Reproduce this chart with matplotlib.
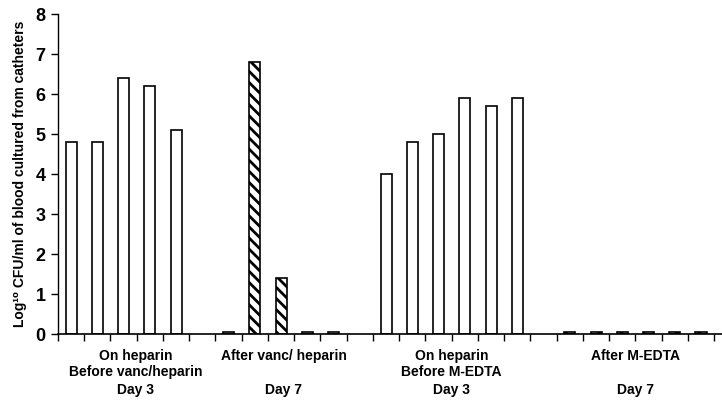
import matplotlib
matplotlib.use("Agg")
import matplotlib.pyplot as plt
import numpy as np

plt.rcParams['font.family'] = ['Liberation Sans', 'DejaVu Sans']
plt.rcParams['hatch.linewidth'] = 2.0

# log10 CFU/ml per catheter slot (None = empty slot between groups)
values = [4.8, 4.8, 6.4, 6.2, 5.1, None,
          0.05, 6.8, 1.4, 0.05, 0.05, None,
          4.0, 4.8, 5.0, 5.9, 5.7, 5.9, None,
          0.05, 0.05, 0.05, 0.05, 0.05, 0.05]
hatched = [False] * 5 + [False] + \
          [False, True, True, False, False] + [False] + \
          [False] * 6 + [False] + \
          [True] * 6

group_lines1 = ['On heparin', 'After vanc/ heparin', 'On heparin', 'After M-EDTA']
group_lines2 = ['Before vanc/heparin', '', 'Before M-EDTA', '']
group_lines3 = ['Day 3', 'Day 7', 'Day 3', 'Day 7']
group_centers = [2.45, 8.1, 14.5, 21.5]

fig = plt.figure(figsize=(7.22, 4.05), dpi=100)
ax = fig.add_axes([0.0803, 0.1753, 0.9197, 0.790])

for i, v in enumerate(values):
    if v is None:
        continue
    ax.bar(i, v, width=0.42, color='white', edgecolor='black', linewidth=1.2,
           hatch='\\\\\\' if hatched[i] else None)

ax.set_xlim(-0.5, 24.8)
ax.set_ylim(0, 8)
ax.set_yticks(range(0, 9))
ax.set_yticklabels([str(t) for t in range(0, 9)], fontsize=13, fontweight='bold')
ax.set_xticks(np.arange(-0.5, 25, 1.0))
ax.set_xticklabels([])
ax.tick_params(axis='x', direction='out', length=5, width=1)
ax.tick_params(axis='y', direction='out', length=5, width=1, pad=4)

ax.spines['top'].set_visible(False)
ax.spines['right'].set_visible(False)
ax.spines['left'].set_linewidth(1.0)
ax.spines['bottom'].set_linewidth(1.2)

ax.set_ylabel('Log\u00b9\u2070 CFU/ml of blood cultured from catheters',
              fontsize=10, fontweight='bold', labelpad=6)

for c, l1, l2, l3 in zip(group_centers, group_lines1, group_lines2, group_lines3):
    ax.text(c, -0.56, l1, ha='center', va='center', fontsize=10, fontweight='bold')
    ax.text(c, -0.96, l2, ha='center', va='center', fontsize=10, fontweight='bold')
    ax.text(c, -1.41, l3, ha='center', va='center', fontsize=10, fontweight='bold')

fig.savefig('out.png', dpi=100)
